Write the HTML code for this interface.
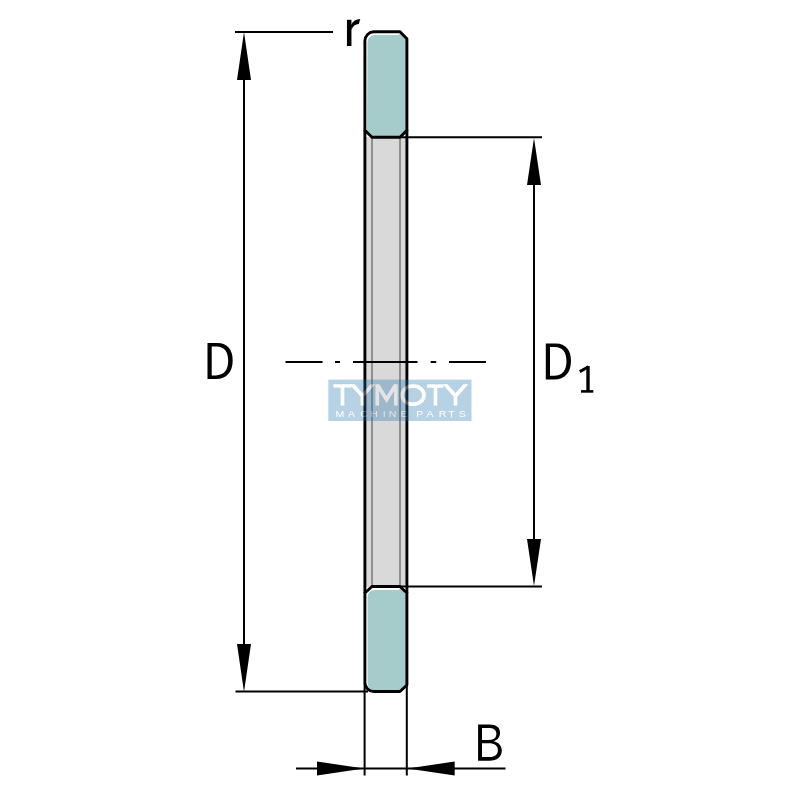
<!DOCTYPE html>
<html><head><meta charset="utf-8">
<style>
html,body{margin:0;padding:0;background:#fff;width:800px;height:800px;overflow:hidden}
svg{display:block}
text{font-family:"Liberation Sans",sans-serif}
</style></head>
<body>
<svg width="800" height="800" viewBox="0 0 800 800" xmlns="http://www.w3.org/2000/svg">
<rect width="800" height="800" fill="#fff"/>
<!-- gray strip -->
<rect x="365" y="137" width="42" height="450" fill="#d9d9d9"/>
<path d="M400,137.2 L406.9,130.4 V137.2 Z M400,586.5 L406.9,593 V586.5 Z" fill="#fff"/>
<line x1="372" y1="137" x2="372" y2="587" stroke="#8f8f8f" stroke-width="2"/>
<line x1="400" y1="137" x2="400" y2="587" stroke="#8f8f8f" stroke-width="2"/>
<!-- top block -->
<path d="M364.9,40.8 A9,9 0 0 1 373.9,31.8 H400 L406.9,38.7 V130.4 L400,137.2 H372 L364.9,130.3 Z" fill="#fff"/>
<path d="M367.6,42 A7,7 0 0 1 374.6,35 H397 L401,34 L406,39 V130 L399.5,136 H372.5 L367,130.5 Z" fill="#a5cbcb"/>
<path d="M364.9,40.8 A9,9 0 0 1 373.9,31.8 H400 L406.9,38.7 V130.4 L400,137.2 H372 L364.9,130.3 Z" fill="none" stroke="#000" stroke-width="2.9" stroke-linejoin="round"/>
<!-- bottom block -->
<path d="M372,586.5 H400 L406.9,593 V685 L400,691.5 H373.9 A9,9 0 0 1 364.9,682.5 V593 Z" fill="#fff"/>
<path d="M367.6,597 A7,7 0 0 1 374.6,590 H397 L401,589 L406,594 V684.5 L399.5,690 H374.5 A7,7 0 0 1 367.6,683 Z" fill="#a5cbcb"/>
<path d="M372,586.5 H400 L406.9,593 V685 L400,691.5 H373.9 A9,9 0 0 1 364.9,682.5 V593 Z" fill="none" stroke="#000" stroke-width="2.9" stroke-linejoin="round"/>
<!-- strip outline -->
<line x1="364.9" y1="130" x2="364.9" y2="593" stroke="#000" stroke-width="2.9"/>
<line x1="406.9" y1="130" x2="406.9" y2="593" stroke="#000" stroke-width="2.9"/>
<!-- dimension lines -->
<g stroke="#000" stroke-width="2" fill="none">
<line x1="235" y1="32" x2="333" y2="32"/>
<line x1="235.5" y1="691.5" x2="368" y2="691.5"/>
<line x1="244" y1="60" x2="244" y2="665"/>
<line x1="400" y1="137.3" x2="542" y2="137.3"/>
<line x1="400" y1="586.5" x2="542" y2="586.5"/>
<line x1="534" y1="160" x2="534" y2="565"/>
<line x1="364.6" y1="683" x2="364.6" y2="775.5"/>
<line x1="406.8" y1="686" x2="406.8" y2="775.5"/>
<line x1="296" y1="768.5" x2="505.5" y2="768.5"/>
<line x1="285.5" y1="362" x2="322.6" y2="362"/>
<line x1="335" y1="362" x2="340" y2="362"/>
<line x1="353" y1="362" x2="417.5" y2="362"/>
<line x1="430.7" y1="362" x2="436.2" y2="362"/>
<line x1="449" y1="362" x2="486" y2="362"/>
</g>
<g fill="#000">
<path d="M244,32 L251,80 H237 Z"/>
<path d="M244,692 L251,644 H237 Z"/>
<path d="M534,138 L541,185 H527 Z"/>
<path d="M534,586 L541,539 H527 Z"/>
<path d="M364,768.5 L317,761.5 V775.5 Z"/>
<path d="M407.5,768.5 L454.7,761.5 V775.5 Z"/>
</g>
<!-- labels -->
<g fill="#000" fill-rule="evenodd">
<path d="M207.5,343 H217.5 C227.5,343 232.7,349.5 232.7,360.5 C232.7,372 226.5,379 216,379 H207.5 Z M211.7,346.6 V375.4 H215.8 C223.8,375.4 228.2,370 228.2,360.8 C228.2,351.5 223.8,346.6 216.5,346.6 Z"/>
<path transform="translate(338.3,0.4)" d="M207.5,343 H217.5 C227.5,343 232.7,349.5 232.7,360.5 C232.7,372 226.5,379 216,379 H207.5 Z M211.7,346.6 V375.4 H215.8 C223.8,375.4 228.2,370 228.2,360.8 C228.2,351.5 223.8,346.6 216.5,346.6 Z"/>
<path d="M478.1,724.6 H489 C496.5,724.6 500,727.5 500,733 C500,737 497.5,740 493.5,741.2 C498.5,742.2 501.8,745.5 501.8,750.5 C501.8,757 497,760.7 489.5,760.7 H478.1 Z M482,727.9 V739.9 H489 C494,739.9 496.4,737.5 496.4,733.7 C496.4,729.7 493.5,727.9 488.5,727.9 Z M482,743.2 V757 H489.5 C495,757 497.9,754.5 497.9,750 C497.9,745.5 494.5,743.2 489,743.2 Z"/>
</g>
<g fill="none" stroke="#000" stroke-linejoin="miter">
<path d="M588,366 V391" stroke-width="3.4"/>
<path d="M581,391.4 H593.3" stroke-width="2.6"/>
<path d="M588.5,366.8 L579.8,371.6" stroke-width="3"/>
<path d="M349.2,19.8 V46" stroke-width="4.5"/>
<path d="M351,25 C352.8,21 356,19 360.3,18.9 L358.8,24 C355.3,24 352.8,26.2 351.3,30 Z" fill="#000" stroke="none"/>
</g>
<!-- watermark -->
<defs>
<clipPath id="wmc"><rect x="320" y="384.2" width="160" height="30"/></clipPath>


</defs>
<mask id="wm" maskUnits="userSpaceOnUse" x="0" y="0" width="800" height="800">
<rect x="0" y="0" width="800" height="800" fill="#fff"/>
<g clip-path="url(#wmc)" fill="none" stroke="#000" stroke-width="3.6">
<path d="M333.5,385.6 H351.5 M342.5,385.6 V405.6"/>
<path d="M351.5,383.5 L362.5,396 L373.5,383.5 M362.5,396 V405.6"/>
<path d="M377.3,405.5 V384.5 L386.6,399.5 L395.8,384.5 V405.5" stroke-linejoin="miter"/>
<ellipse cx="413" cy="395.1" rx="11" ry="9.2"/>
<path d="M427.2,386 H443.4 M435.5,386 V405.5"/>
<path d="M444.5,383.5 L455.5,396 L466.5,383.5 M455.5,396 V405.6"/>
</g>
<g stroke="none" font-size="8.2" fill="#000"><text transform="translate(335.4,417.1) scale(1.28,1)">M</text><text transform="translate(348.1,417.1) scale(1.28,1)">A</text><text transform="translate(360.3,417.1) scale(1.28,1)">C</text><text transform="translate(370.3,417.1) scale(1.28,1)">H</text><text transform="translate(382.7,417.1) scale(1.28,1)">I</text><text transform="translate(388.8,417.1) scale(1.28,1)">N</text><text transform="translate(400.6,417.1) scale(1.28,1)">E</text><text transform="translate(416.3,417.1) scale(1.28,1)">P</text><text transform="translate(426.4,417.1) scale(1.28,1)">A</text><text transform="translate(438.7,417.1) scale(1.28,1)">R</text><text transform="translate(448.3,417.1) scale(1.28,1)">T</text><text transform="translate(458.8,417.1) scale(1.28,1)">S</text></g>
</mask>
<rect x="328.3" y="379.6" width="143.2" height="41.4" fill="rgba(30,115,175,0.32)" mask="url(#wm)"/>
<g clip-path="url(#wmc)" fill="none" stroke="rgba(255,255,255,0.3)" stroke-width="3.6">
<path d="M333.5,385.6 H351.5 M342.5,385.6 V405.6"/>
<path d="M351.5,383.5 L362.5,396 L373.5,383.5 M362.5,396 V405.6"/>
<path d="M377.3,405.5 V384.5 L386.6,399.5 L395.8,384.5 V405.5" stroke-linejoin="miter"/>
<ellipse cx="413" cy="395.1" rx="11" ry="9.2"/>
<path d="M427.2,386 H443.4 M435.5,386 V405.5"/>
<path d="M444.5,383.5 L455.5,396 L466.5,383.5 M455.5,396 V405.6"/>
</g>
<g stroke="none" font-size="8.2" fill="rgba(255,255,255,0.3)"><text transform="translate(335.4,417.1) scale(1.28,1)">M</text><text transform="translate(348.1,417.1) scale(1.28,1)">A</text><text transform="translate(360.3,417.1) scale(1.28,1)">C</text><text transform="translate(370.3,417.1) scale(1.28,1)">H</text><text transform="translate(382.7,417.1) scale(1.28,1)">I</text><text transform="translate(388.8,417.1) scale(1.28,1)">N</text><text transform="translate(400.6,417.1) scale(1.28,1)">E</text><text transform="translate(416.3,417.1) scale(1.28,1)">P</text><text transform="translate(426.4,417.1) scale(1.28,1)">A</text><text transform="translate(438.7,417.1) scale(1.28,1)">R</text><text transform="translate(448.3,417.1) scale(1.28,1)">T</text><text transform="translate(458.8,417.1) scale(1.28,1)">S</text></g>
</svg>
</body></html>
